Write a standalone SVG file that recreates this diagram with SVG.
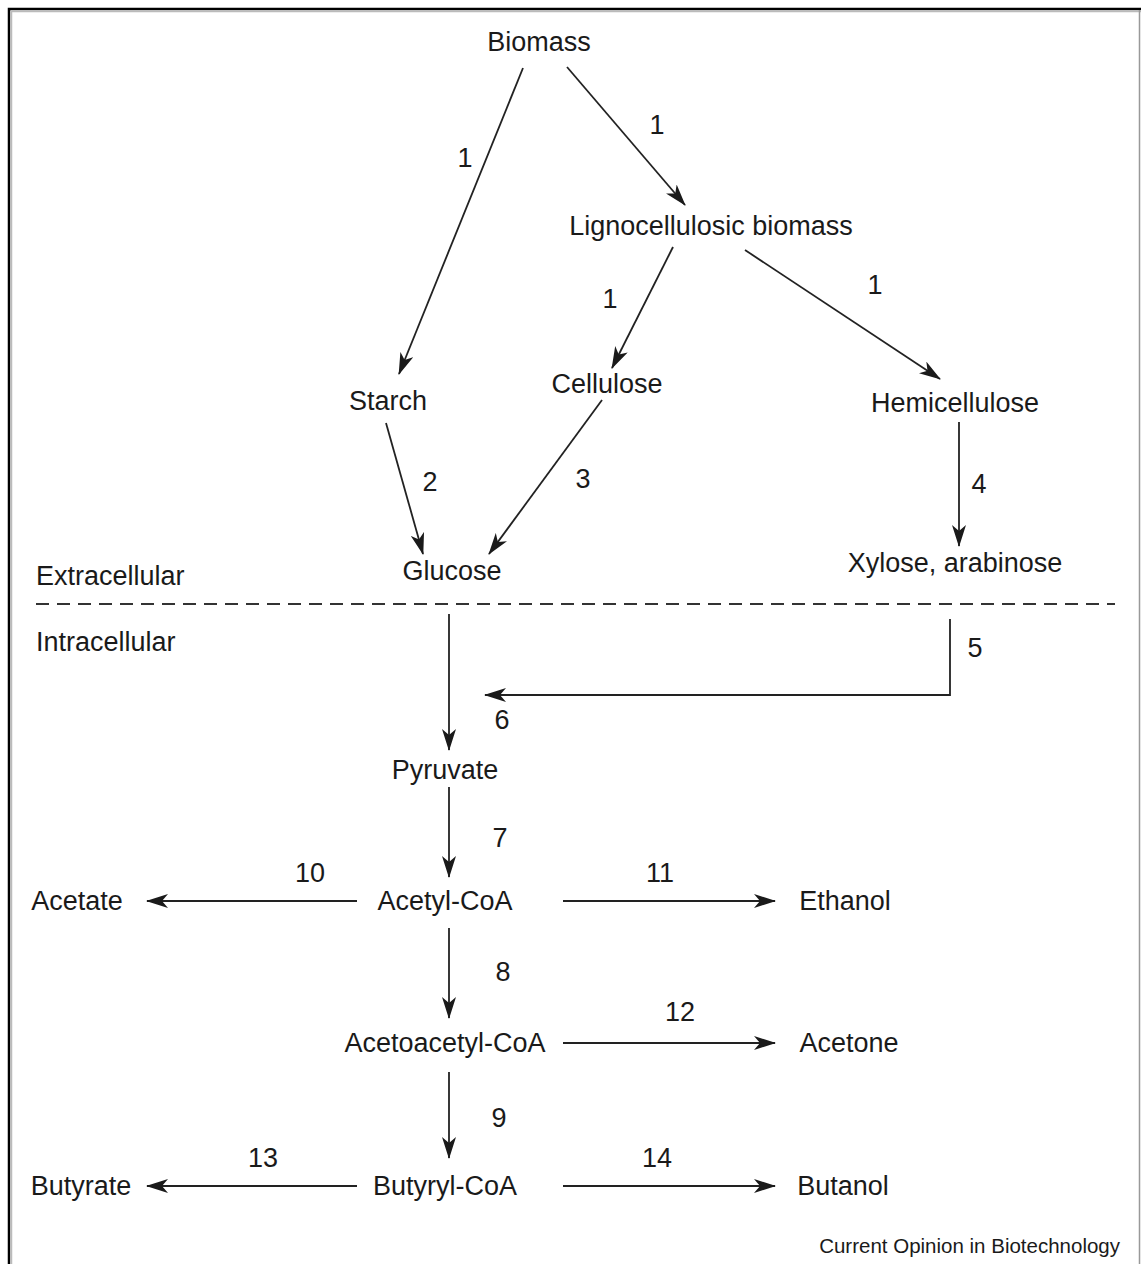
<svg xmlns="http://www.w3.org/2000/svg" width="1141" height="1264" viewBox="0 0 1141 1264">
<style>
text{font-family:"Liberation Sans",Arial,sans-serif;font-size:27px;fill:#1a1a1a}
.m{text-anchor:middle}
.c{stroke:#222;stroke-width:1.8;fill:none;marker-end:url(#ah)}
.p{stroke:#222;stroke-width:1.8;fill:none}
</style>
<defs>
<marker id="ah" markerUnits="userSpaceOnUse" markerWidth="22" markerHeight="14" viewBox="0 0 22 14" refX="21" refY="7" orient="auto">
<path d="M0,0 L22,7 L0,14 L6,7 Z" fill="#1a1a1a"/>
</marker>
</defs>
<rect x="0" y="0" width="1141" height="1264" fill="#fff"/>
<path d="M9,1264 V9 H1141" fill="none" stroke="#000" stroke-width="2.5"/>
<path d="M11.5,1264 V11.5 H1141" fill="none" stroke="#bbb" stroke-width="1.5"/>
<line x1="1139.5" y1="10" x2="1139.5" y2="1264" stroke="#999" stroke-width="1.5"/>

<g id="connectors">
<line class="c" x1="523" y1="68" x2="399" y2="374"/>
<line class="c" x1="567" y1="67" x2="685" y2="205"/>
<line class="c" x1="673" y1="247" x2="612" y2="368"/>
<line class="c" x1="745" y1="250" x2="940" y2="379"/>
<line class="c" x1="386" y1="423" x2="423" y2="554"/>
<line class="c" x1="602" y1="400" x2="489" y2="554"/>
<line class="c" x1="959" y1="422" x2="959" y2="546"/>
<line x1="36" y1="604" x2="1115" y2="604" stroke="#333" stroke-width="2" stroke-dasharray="13 8"/>
<line class="c" x1="449" y1="614" x2="449" y2="750"/>
<polyline class="c" points="950,619 950,695 485,695"/>
<line class="c" x1="449" y1="787" x2="449" y2="877"/>
<line class="c" x1="357" y1="901" x2="147" y2="901"/>
<line class="c" x1="563" y1="901" x2="775" y2="901"/>
<line class="c" x1="449" y1="928" x2="449" y2="1018"/>
<line class="c" x1="563" y1="1043" x2="775" y2="1043"/>
<line class="c" x1="449" y1="1072" x2="449" y2="1158"/>
<line class="c" x1="357" y1="1186" x2="147" y2="1186"/>
<line class="c" x1="563" y1="1186" x2="775" y2="1186"/>
</g>

<g id="labels">
<text x="465" y="167" class="m">1</text>
<text x="657" y="134" class="m">1</text>
<text x="610" y="308" class="m">1</text>
<text x="875" y="294" class="m">1</text>
<text x="430" y="491" class="m">2</text>
<text x="583" y="488" class="m">3</text>
<text x="979" y="493" class="m">4</text>
<text x="975" y="657" class="m">5</text>
<text x="502" y="729" class="m">6</text>
<text x="500" y="847" class="m">7</text>
<text x="503" y="981" class="m">8</text>
<text x="499" y="1127" class="m">9</text>
<text x="310" y="882" class="m">10</text>
<text x="660" y="882" class="m">11</text>
<text x="680" y="1021" class="m">12</text>
<text x="263" y="1167" class="m">13</text>
<text x="657" y="1167" class="m">14</text>
</g>

<g id="biomass"><text x="539" y="51" class="m">Biomass</text></g>
<g id="lignocellulosic"><text x="711" y="235" class="m">Lignocellulosic biomass</text></g>
<g id="starch"><text x="388" y="410" class="m">Starch</text></g>
<g id="cellulose"><text x="607" y="393" class="m">Cellulose</text></g>
<g id="hemicellulose"><text x="955" y="412" class="m">Hemicellulose</text></g>
<g id="glucose"><text x="452" y="580" class="m">Glucose</text></g>
<g id="xylose"><text x="955" y="572" class="m">Xylose, arabinose</text></g>
<g id="extracellular"><text x="36" y="585">Extracellular</text></g>
<g id="intracellular"><text x="36" y="651">Intracellular</text></g>
<g id="pyruvate"><text x="445" y="779" class="m">Pyruvate</text></g>
<g id="acetylcoa"><text x="445" y="910" class="m">Acetyl-CoA</text></g>
<g id="acetate"><text x="77" y="910" class="m">Acetate</text></g>
<g id="ethanol"><text x="845" y="910" class="m">Ethanol</text></g>
<g id="acetoacetylcoa"><text x="445" y="1052" class="m">Acetoacetyl-CoA</text></g>
<g id="acetone"><text x="849" y="1052" class="m">Acetone</text></g>
<g id="butyrylcoa"><text x="445" y="1195" class="m">Butyryl-CoA</text></g>
<g id="butyrate"><text x="81" y="1195" class="m">Butyrate</text></g>
<g id="butanol"><text x="843" y="1195" class="m">Butanol</text></g>
<g id="credit"><text x="1120" y="1253" style="font-size:20.5px;text-anchor:end">Current Opinion in Biotechnology</text></g>
</svg>
